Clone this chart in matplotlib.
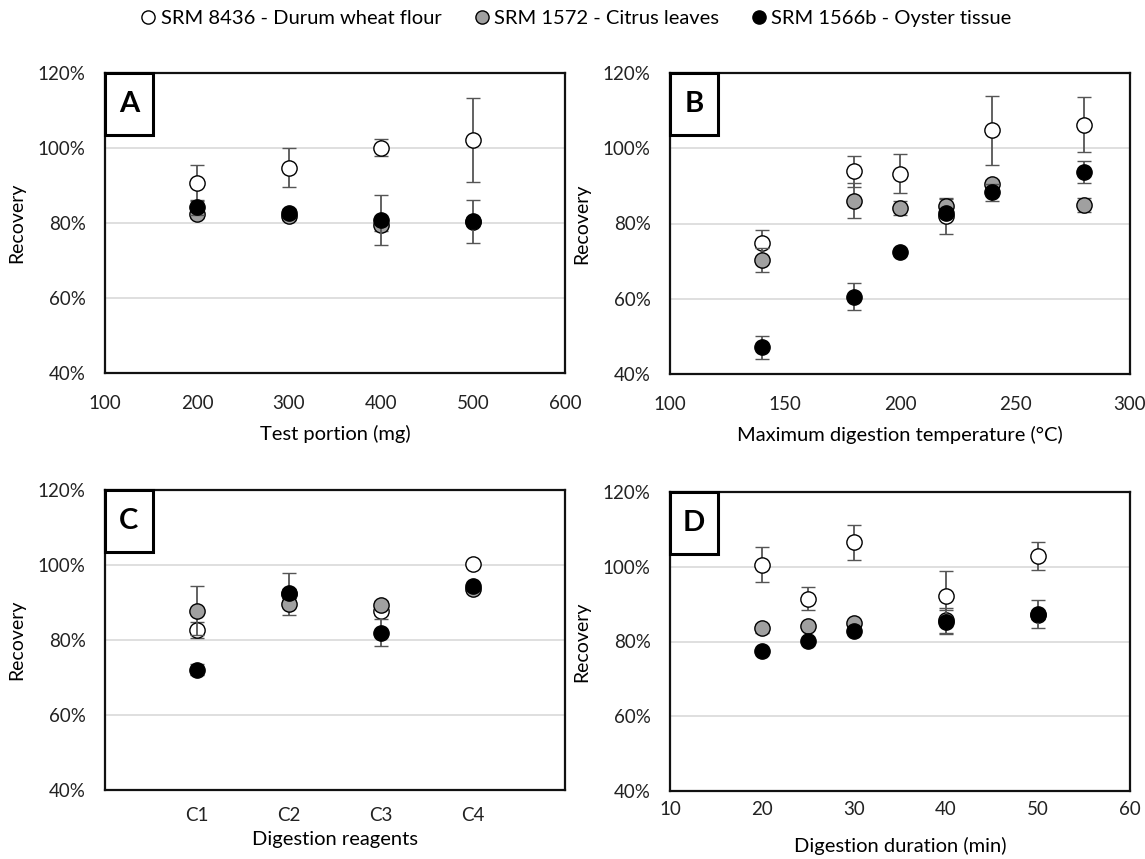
import numpy as np
import matplotlib
matplotlib.use("Agg")
import matplotlib.pyplot as plt
from matplotlib.patches import Rectangle
from matplotlib.ticker import PercentFormatter
from matplotlib.lines import Line2D

plt.rcParams['font.family'] = ['Lato', 'DejaVu Sans']

# Series names
series_names = ['SRM 8436 - Durum wheat flour', 'SRM 1572 - Citrus leaves', 'SRM 1566b - Oyster tissue']

# Panel A - test portion (mg)
A_x = [200, 300, 400, 500]
A_white = [90.8, 94.7, 100.1, 102.2]
A_white_err = [4.8, 5.2, 2.2, 11.2]
A_grey = [82.4, 81.8, 79.5, 80.4]
A_grey_err = [1.0, 1.0, 1.5, 1.0]
A_black = [84.2, 82.8, 80.8, 80.5]
A_black_err = [2.0, 1.0, 6.6, 5.7]

# Panel B - max digestion temperature (°C)
B_x = [140, 180, 200, 220, 240, 280]
B_white = [74.8, 93.9, 93.2, 81.9, 104.8, 106.3]
B_white_err = [3.6, 4.1, 5.2, 4.6, 9.2, 7.2]
B_grey = [70.3, 86.1, 84.2, 84.7, 90.6, 84.9]
B_grey_err = [3.3, 4.7, 1.9, 2.0, 1.0, 1.9]
B_black = [47.1, 60.5, 72.5, 82.7, 88.3, 93.7]
B_black_err = [3.0, 3.6, 0.8, 1.0, 2.2, 2.9]

# Panel C - digestion reagents
C_labels = ['C1', 'C2', 'C3', 'C4']
C_white = [82.6, 92.3, 87.7, 100.3]
C_white_err = [2.1, 5.6, 1.0, 0.5]
C_grey = [87.8, 89.7, 89.4, 93.6]
C_grey_err = [6.5, 1.0, 1.0, 0.5]
C_black = [72.1, 92.6, 81.9, 94.3]
C_black_err = [1.5, 1.0, 3.6, 0.5]

# Panel D - digestion duration (min)
D_x = [20, 25, 30, 40, 50]
D_white = [100.6, 91.5, 106.5, 92.3, 102.8]
D_white_err = [4.7, 3.1, 4.8, 6.6, 3.7]
D_grey = [83.6, 84.2, 85.0, 85.7, 87.0]
D_grey_err = [1.2, 0.8, 0.5, 3.3, 1.0]
D_black = [77.4, 80.2, 82.7, 85.2, 87.4]
D_black_err = [0.5, 0.5, 0.5, 3.1, 3.8]

face_colors = ['white', '#a0a0a0', 'black']

fig = plt.figure(figsize=(11.45, 8.59), dpi=100)

W, H = 1145, 859
def px_axes(left, top, right, bottom):
    return fig.add_axes([left / W, 1 - bottom / H, (right - left) / W, (bottom - top) / H])

axA = px_axes(105, 73, 565, 373)
axB = px_axes(670, 73, 1130, 374)
axC = px_axes(105, 490, 565, 790)
axD = px_axes(670, 492, 1130, 791)

def draw_panel(ax, x, ys, errs, letter, xlabel, xlim, xticks, xpad, lpad):
    for i, (y, e) in enumerate(zip(ys, errs)):
        ax.errorbar(x, y, yerr=e, fmt='o', ms=11, mfc=face_colors[i], mec='black',
                    mew=1.0, ecolor='#555555', elinewidth=1.3, capsize=5, capthick=1.3,
                    zorder=3 + i)
    ax.set_xlim(*xlim)
    ax.set_ylim(40, 120)
    ax.set_yticks([40, 60, 80, 100, 120])
    ax.yaxis.set_major_formatter(PercentFormatter(decimals=0))
    ax.set_xticks(xticks)
    ax.grid(axis='y', color='#d9d9d9', lw=1.2, zorder=0)
    ax.set_axisbelow(True)
    for s in ax.spines.values():
        s.set_linewidth(1.6)
        s.set_color('#111111')
    ax.tick_params(length=0, labelsize=13.5, colors='#222222')
    ax.tick_params(axis='y', pad=14)
    ax.tick_params(axis='x', pad=xpad)
    ax.set_ylabel('Recovery', fontsize=14, labelpad=9)
    ax.set_xlabel(xlabel, fontsize=14.5, labelpad=lpad)
    ax.add_patch(Rectangle((0, 0.793), 0.104, 0.207, transform=ax.transAxes,
                           facecolor='white', edgecolor='black', lw=2.2,
                           zorder=10, clip_on=False))
    ax.text(0.052, 0.8965, letter, transform=ax.transAxes, ha='center', va='center',
            fontsize=21, fontweight='bold', zorder=11)

draw_panel(axA, A_x, [A_white, A_grey, A_black], [A_white_err, A_grey_err, A_black_err],
           'A', 'Test portion (mg)', (100, 600), [100, 200, 300, 400, 500, 600], 16, 9)
draw_panel(axB, B_x, [B_white, B_grey, B_black], [B_white_err, B_grey_err, B_black_err],
           'B', 'Maximum digestion temperature (°C)', (100, 300), [100, 150, 200, 250, 300], 16, 9)
C_pos = np.arange(1, len(C_labels) + 1)
draw_panel(axC, C_pos, [C_white, C_grey, C_black], [C_white_err, C_grey_err, C_black_err],
           'C', 'Digestion reagents', (0, 5), C_pos, 12, 5)
axC.set_xticklabels(C_labels)
draw_panel(axD, D_x, [D_white, D_grey, D_black], [D_white_err, D_grey_err, D_black_err],
           'D', 'Digestion duration (min)', (10, 60), [10, 20, 30, 40, 50, 60], 7, 14)

handles = [Line2D([], [], ls='none', marker='o', ms=9.5, mfc=c, mec='black', mew=1.0)
           for c in face_colors]
fig.legend(handles, series_names, loc='center', bbox_to_anchor=(0.502, 0.978), ncol=3,
           frameon=False, fontsize=14.5, handletextpad=0.1, columnspacing=1.5,
           handlelength=1.0)

fig.savefig('out.png', dpi=100)
